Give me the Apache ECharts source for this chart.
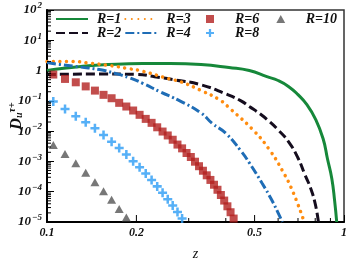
<!DOCTYPE html>
<html><head><meta charset="utf-8">
<script src="https://cdn.jsdelivr.net/npm/echarts@6/dist/echarts.min.js"></script>
<style>html,body{margin:0;padding:0;background:#fff}#c{width:353px;height:265px}</style>
</head><body><div id="c"></div>
<script>
// ---- data ----
const zR1 = [0.1, 0.114, 0.13, 0.15, 0.18, 0.21, 0.26, 0.33, 0.41, 0.48, 0.55, 0.6, 0.65, 0.7, 0.75, 0.8, 0.85, 0.88, 0.91, 0.93, 0.945];
const vR1 = [1.0, 1.19, 1.36, 1.52, 1.64, 1.7, 1.7, 1.58, 1.26, 1.0, 0.63, 0.47, 0.3, 0.16, 0.075, 0.026, 0.0057, 0.0012, 0.00027, 0.00005, 0.00001];
const zR2 = [0.1, 0.15, 0.2, 0.23, 0.27, 0.33, 0.4, 0.45, 0.48, 0.52, 0.56, 0.6, 0.65, 0.7, 0.74, 0.77, 0.8, 0.82];
const vR2 = [0.74, 0.77, 0.75, 0.63, 0.49, 0.34, 0.17, 0.1, 0.065, 0.038, 0.021, 0.011, 0.0045, 0.0013, 0.00035, 0.00014, 0.00004, 0.00001];
const zR3 = [0.1, 0.12, 0.14, 0.163, 0.19, 0.21, 0.26, 0.28, 0.33, 0.38, 0.413, 0.5, 0.563, 0.62, 0.67, 0.73];
const vR3 = [1.98, 2.0, 1.75, 1.46, 1.14, 0.95, 0.52, 0.44, 0.22, 0.11, 0.056, 0.0097, 0.0023, 0.0005, 0.00011, 0.000012];
const zR4 = [0.1, 0.11, 0.13, 0.15, 0.17, 0.19, 0.21, 0.24, 0.28, 0.33, 0.36, 0.4, 0.45, 0.48, 0.53, 0.57, 0.6, 0.62];
const vR4 = [1.84, 1.6, 1.3, 1.08, 0.8, 0.57, 0.38, 0.2, 0.1, 0.04, 0.018, 0.0085, 0.0022, 0.0009, 0.00019, 0.000055, 0.00002, 0.00001];
const zR6 = [0.105, 0.115, 0.125, 0.135, 0.145, 0.155, 0.165, 0.175, 0.185, 0.195, 0.205, 0.215, 0.225, 0.235, 0.245, 0.255, 0.265, 0.275, 0.285, 0.295, 0.305, 0.315, 0.325, 0.335, 0.345, 0.355, 0.365, 0.375, 0.385, 0.395, 0.405, 0.415, 0.425];
const vR6 = [0.74, 0.53, 0.41, 0.30, 0.218, 0.158, 0.122, 0.086, 0.065, 0.048, 0.0346, 0.0254, 0.0188, 0.0134, 0.0097, 0.0072, 0.0052, 0.0036, 0.0027, 0.0019, 0.0014, 0.00098, 0.000695, 0.000493, 0.000348, 0.000245, 0.00017, 0.000116, 0.000078, 0.000051, 0.000033, 0.000021, 0.000013];
const zR8 = [0.105, 0.115, 0.125, 0.135, 0.145, 0.155, 0.165, 0.175, 0.185, 0.195, 0.205, 0.215, 0.225, 0.235, 0.245, 0.255, 0.265, 0.275, 0.285];
const vR8 = [0.095, 0.054, 0.031, 0.0197, 0.0125, 0.0075, 0.0045, 0.0028, 0.0017, 0.00102, 0.00064, 0.000396, 0.000243, 0.00015, 0.000092, 0.0000565, 0.000035, 0.0000214, 0.000013];
const zR10 = [0.105, 0.115, 0.125, 0.135, 0.145, 0.155, 0.165, 0.175, 0.185];
const vR10 = [0.0035, 0.00177, 0.00087, 0.00042, 0.000206, 0.000103, 0.000054, 0.000027, 0.000014];
const legendLinesRow1 = ['R=1', 'R=3'];
const legendLinesRow2 = ['R=2', 'R=4'];
const legendMarkersRow1 = ['R=6', 'R=10'];
const legendMarkersRow2 = ['R=8'];
const lineNames = ['R=1', 'R=2', 'R=3', 'R=4'];
const xMajorLabelTicks = [0.2, 0.5];
const xMinorTicks = [0.3, 0.4, 0.6, 0.7, 0.8, 0.9];
const yMinorMult = [2, 3, 4, 5, 6, 7, 8, 9];
const yDecades = [-5, -4, -3, -2, -1, 0, 1];

// ---- build ----
const zip = (a, b) => a.map((x, i) => [x, b[i]]);
const yMinorData = [];
yDecades.forEach(d => yMinorMult.forEach(m => yMinorData.push([0.1, m * Math.pow(10, d)])));
const xMinorData = xMinorTicks.map(z => [z, 1e-5]);
const xMajorData = xMajorLabelTicks.map(z => [z, 1e-5]);

const FONT = 'Liberation Serif';
const plusPath = 'path://M3.6,0H6.4V3.6H10V6.4H6.4V10H3.6V6.4H0V3.6H3.6Z';
const squarePath = 'path://M0,0H10V10H0Z';
const triPath = 'path://M5,0L10,9H0Z';
const markerIcons = { 'R=6': squarePath, 'R=8': plusPath, 'R=10': triPath };

function supLabel(v) {
  const e = Math.round(Math.log10(v));
  if (e === 0) return '{b|1}';
  return '{b|10}{s|' + (e < 0 ? '\u2212' + (-e) : e) + '}';
}

function tickSeries(data, kind) {
  return {
    type: 'custom', coordinateSystem: 'cartesian2d', silent: true, clip: false, z: 5,
    data: data,
    renderItem: function (params, api) {
      const p = api.coord([api.value(0), api.value(1)]);
      if (kind === 'y') {
        return { type: 'line', shape: { x1: p[0], y1: p[1], x2: p[0] + 4, y2: p[1] }, style: { stroke: '#000', lineWidth: 1 } };
      }
      const len = kind === 'xmaj' ? 7 : 4;
      const children = [{ type: 'line', shape: { x1: p[0], y1: p[1], x2: p[0], y2: p[1] - len }, style: { stroke: '#000', lineWidth: 1 } }];
      if (kind === 'xmaj') {
        children.push({ type: 'text', x: p[0], y: p[1] + 5, style: { text: String(api.value(0)), fontFamily: FONT, fontWeight: 'bold', fontStyle: 'italic', fontSize: 12, fill: '#111', align: 'center', verticalAlign: 'top' } });
      }
      return { type: 'group', children: children };
    }
  };
}

function legendText(pad) {
  return { fontFamily: FONT, fontWeight: 'bold', fontStyle: 'italic', fontSize: 14, color: '#111', padding: [0, 0, 0, pad] };
}
function legendItems(names) {
  return names.map(n => lineNames.indexOf(n) >= 0 ? { name: n, itemStyle: { opacity: 0 } } : { name: n, icon: markerIcons[n] });
}
function makeLegend(names, left, top, gap, pad) {
  return { data: legendItems(names), top: top, left: left, width: 300, padding: 0, itemWidth: 32, itemHeight: 8, itemGap: gap, symbolKeepAspect: true, textStyle: legendText(pad), orient: 'horizontal' };
}

const option = {
  animation: false,
  backgroundColor: '#fff',
  grid: { left: 47, top: 10, right: 9, bottom: 43, containLabel: false, outerBoundsMode: 'none', show: true, borderColor: '#333', borderWidth: 1.5, backgroundColor: 'transparent' },
  legend: [
    makeLegend(legendLinesRow1, 55, 12, 3, 4),
    makeLegend(legendLinesRow2, 55, 26, 3, 4),
    makeLegend(legendMarkersRow1, 206, 12, 17, 4),
    makeLegend(legendMarkersRow2, 206, 26, 17, 4)
  ],
  xAxis: {
    type: 'log', logBase: 10, min: 0.1, max: 1,
    name: 'z', nameLocation: 'middle', nameGap: 25, nameMoveOverlap: false,
    nameTextStyle: { fontFamily: FONT, fontStyle: 'italic', fontSize: 14, color: '#111' },
    axisLine: { lineStyle: { color: '#000', width: 2 } },
    axisTick: { inside: true, length: 7, lineStyle: { color: '#000' } },
    axisLabel: { margin: 5, fontFamily: FONT, fontWeight: 'bold', fontStyle: 'italic', fontSize: 12, color: '#111', formatter: v => String(+v.toPrecision(2)) },
    splitLine: { show: false }
  },
  yAxis: {
    type: 'log', logBase: 10, min: 1e-5, max: 100, splitNumber: 7,
    name: '{d|D}{u|u}{t|\u03c4+}', nameLocation: 'middle', nameGap: 21, nameRotate: 90, nameMoveOverlap: false,
    nameTextStyle: {
      rich: {
        d: { fontFamily: FONT, fontWeight: 'bold', fontStyle: 'italic', fontSize: 16, color: '#111' },
        u: { fontFamily: FONT, fontWeight: 'bold', fontStyle: 'italic', fontSize: 10, color: '#111', padding: [6, 0, 0, 0] },
        t: { fontFamily: FONT, fontWeight: 'bold', fontStyle: 'italic', fontSize: 10, color: '#111', padding: [0, 0, 9, 0] }
      }
    },
    axisLine: { lineStyle: { color: '#000', width: 2 } },
    axisTick: { inside: true, length: 7, lineStyle: { color: '#000' } },
    axisLabel: {
      margin: 5, formatter: supLabel,
      rich: {
        b: { fontFamily: FONT, fontWeight: 'bold', fontStyle: 'italic', fontSize: 13, color: '#111' },
        s: { fontFamily: FONT, fontWeight: 'bold', fontStyle: 'italic', fontSize: 9, color: '#111', padding: [0, 0, 8, 1] }
      }
    },
    splitLine: { show: false }
  },
  series: [
    { name: 'R=1', type: 'line', data: zip(zR1, vR1), smooth: true, symbol: 'none', color: '#16883a', lineStyle: { width: 3, color: '#16883a' }, z: 3 },
    { name: 'R=2', type: 'line', data: zip(zR2, vR2), smooth: true, symbol: 'none', color: '#150d1e', lineStyle: { width: 3, color: '#150d1e', type: [9, 4] }, z: 3 },
    { name: 'R=3', type: 'line', data: zip(zR3, vR3), smooth: true, symbol: 'none', color: '#ff8c0f', lineStyle: { width: 3.5, color: '#ff8c0f', type: [0.01, 6.5], cap: 'round' }, z: 3 },
    { name: 'R=4', type: 'line', data: zip(zR4, vR4), smooth: true, symbol: 'none', color: '#1f6db6', lineStyle: { width: 3, color: '#1f6db6', type: [9, 3, 2, 3] }, z: 3 },
    { name: 'R=6', type: 'scatter', data: zip(zR6, vR6), symbol: squarePath, symbolSize: 8, itemStyle: { color: '#b3211f' }, z: 4 },
    { name: 'R=8', type: 'scatter', data: zip(zR8, vR8), symbol: plusPath, symbolSize: 9, itemStyle: { color: '#2c9cf5' }, z: 4 },
    { name: 'R=10', type: 'scatter', data: zip(zR10, vR10), symbol: triPath, symbolSize: [9, 8], itemStyle: { color: '#555' }, z: 4 },
    tickSeries(yMinorData, 'y'),
    tickSeries(xMinorData, 'x'),
    tickSeries(xMajorData, 'xmaj')
  ]
};
const chart = echarts.init(document.getElementById('c'), null, { renderer: 'canvas' });
chart.setOption(option);
</script></body></html>
